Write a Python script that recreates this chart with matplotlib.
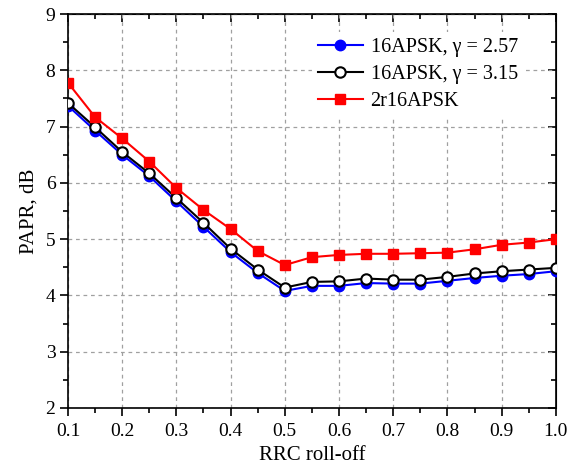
import matplotlib.pyplot as plt
import numpy as np

plt.rcParams['font.family'] = ['Liberation Serif', 'DejaVu Serif']
plt.rcParams['mathtext.fontset'] = 'stix'

rolloff = [0.10, 0.15, 0.20, 0.25, 0.30, 0.35, 0.40, 0.45, 0.50, 0.55,
           0.60, 0.65, 0.70, 0.75, 0.80, 0.85, 0.90, 0.95, 1.00]
papr_257 = [7.37, 6.93, 6.50, 6.12, 5.67, 5.22, 4.77, 4.40, 4.08, 4.17,
            4.17, 4.22, 4.21, 4.21, 4.26, 4.31, 4.35, 4.38, 4.43]
papr_315 = [7.42, 6.99, 6.55, 6.17, 5.73, 5.29, 4.83, 4.46, 4.14, 4.24,
            4.25, 4.30, 4.28, 4.28, 4.33, 4.39, 4.43, 4.46, 4.49]
papr_2r = [7.78, 7.17, 6.79, 6.38, 5.91, 5.52, 5.18, 4.79, 4.54, 4.68,
           4.72, 4.74, 4.74, 4.75, 4.76, 4.82, 4.90, 4.94, 5.00]

fig = plt.figure(figsize=(5.76, 4.70), dpi=100)
ax = fig.add_axes([0.118, 0.132, 0.847, 0.838])

ax.plot(rolloff, papr_257, '-o', color='blue', lw=1.5, ms=7.5,
        mfc='blue', mec='blue', label='16APSK, γ = 2.57', zorder=3)
ax.plot(rolloff, papr_315, '-o', color='black', lw=1.5, ms=7.5,
        mfc='white', mec='black', mew=1.5, label='16APSK, γ = 3.15', zorder=4)
ax.plot(rolloff, papr_2r, '-s', color='red', lw=1.5, ms=7,
        mfc='red', mec='red', label='2r16APSK', zorder=5)

ax.set_xlim(0.1, 1.0)
ax.set_ylim(2, 9)
ax.set_xticks(np.arange(0.1, 1.01, 0.1))
ax.set_xticklabels([f'{v:.1f}' for v in np.arange(0.1, 1.01, 0.1)])
ax.set_xticks(np.arange(0.15, 1.0, 0.1), minor=True)
ax.set_yticks(range(2, 10))
ax.set_yticks(np.arange(2.5, 9, 1), minor=True)

ax.grid(True, which='major', ls=(0, (3, 3)), color='#a0a0a0', lw=0.9)
ax.set_axisbelow(True)

for s in ax.spines.values():
    s.set_linewidth(1.2)
ax.tick_params(which='both', direction='out', width=1.2, labelsize=14)
ax.tick_params(axis='x', pad=5)
ax.tick_params(axis='y', pad=3)
ax.tick_params(which='major', length=6)
ax.tick_params(which='minor', length=3.5)

# mirrored ticks pointing inward on the top and right edges
top = ax.secondary_xaxis('top')
top.set_xticks(ax.get_xticks())
top.set_xticks(ax.get_xticks(minor=True), minor=True)
top.tick_params(which='both', direction='in', labeltop=False, width=1.2)
top.tick_params(which='major', length=6)
top.tick_params(which='minor', length=3.5)
right = ax.secondary_yaxis('right')
right.set_yticks(ax.get_yticks())
right.set_yticks(ax.get_yticks(minor=True), minor=True)
right.tick_params(which='both', direction='in', labelright=False, width=1.2)
right.tick_params(which='major', length=6)
right.tick_params(which='minor', length=3.5)

ax.set_xlabel('RRC roll-off', fontsize=15, labelpad=4)
ax.set_ylabel('PAPR, dB', fontsize=15, labelpad=5)

leg = ax.legend(loc='upper left', bbox_to_anchor=(0.48, 0.98), fontsize=14.5,
                frameon=True, fancybox=False, edgecolor='none',
                framealpha=1, handlelength=2.2, handletextpad=0.4,
                labelspacing=0.4, borderpad=0.3)

fig.savefig('out.png', dpi=100)
